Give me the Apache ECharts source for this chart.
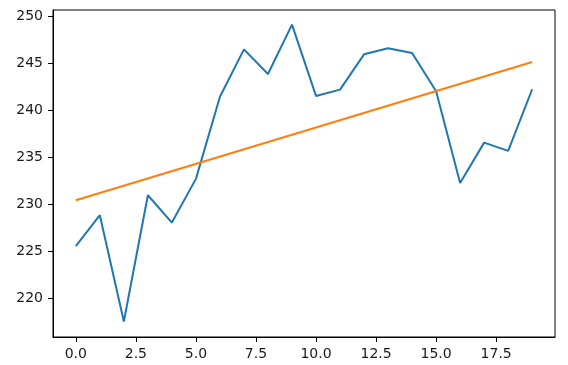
<!DOCTYPE html>
<html><head><meta charset="utf-8">
<script src="https://cdn.jsdelivr.net/npm/echarts@6/dist/echarts.min.js"></script>
<style>html,body{margin:0;padding:0;background:#fff}#c{width:568px;height:365px}</style>
</head><body><div id="c"></div>
<script>
const xValues = [0,1,2,3,4,5,6,7,8,9,10,11,12,13,14,15,16,17,18,19];
const seriesValues = [225.55,228.84,217.55,230.96,228.06,232.7,241.43,246.46,243.84,249.08,241.51,242.18,245.93,246.57,246.07,242.0,232.27,236.55,235.67,242.22];
const trendX = [0, 19];
const trendValues = [230.43, 245.12];
const xTicks = [0,2.5,5,7.5,10,12.5,15,17.5];
const yTicks = [220,225,230,235,240,245,250];

const chart = echarts.init(document.getElementById('c'), null, {renderer:'canvas'});
const font = {fontFamily:'DejaVu Sans', fontSize:14, color:'#1a1a1a'};
chart.setOption({
  animation:false,
  grid:{left:53,right:13,top:10,bottom:28,show:true,borderColor:'#000',borderWidth:1,backgroundColor:'transparent'},
  xAxis:{type:'value',min:-0.95,max:19.95,
    axisLine:{show:true,onZero:false,lineStyle:{color:'#000',width:1}},
    axisTick:{show:true,length:5,lineStyle:{color:'#000'},customValues:xTicks},
    axisLabel:Object.assign({margin:10,customValues:xTicks,formatter:v=>Number(v).toFixed(1)},font),
    splitLine:{show:false}},
  yAxis:{type:'value',min:215.9,max:250.64,
    axisLine:{show:true,onZero:false,lineStyle:{color:'#000',width:1}},
    axisTick:{show:true,length:5,lineStyle:{color:'#000'},customValues:yTicks},
    axisLabel:Object.assign({margin:10,customValues:yTicks,formatter:v=>String(Math.round(v))},font),
    splitLine:{show:false}},
  series:[
    {type:'line',data:xValues.map((x,i)=>[x,seriesValues[i]]),showSymbol:false,
     lineStyle:{color:'#1f77b4',width:2},itemStyle:{color:'#1f77b4'}},
    {type:'line',data:trendX.map((x,i)=>[x,trendValues[i]]),showSymbol:false,
     lineStyle:{color:'#ff7f0e',width:2},itemStyle:{color:'#ff7f0e'}}
  ]
});
</script></body></html>
